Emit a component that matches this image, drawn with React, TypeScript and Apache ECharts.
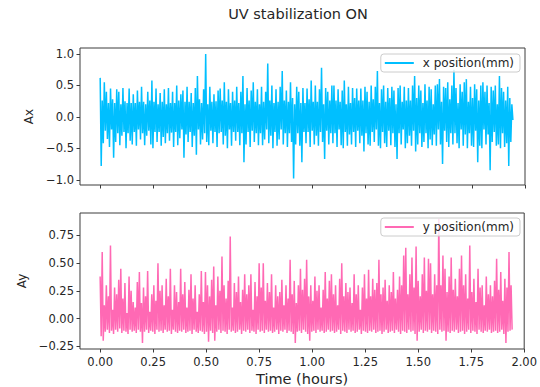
import { useEffect, useRef } from "react";
import * as echarts from "echarts";

// Recording length: samples are evenly spaced from 0 to this many hours.
const SAMPLE_SPAN_HOURS = 1.943;

// Horizontal drift of the spot (mm).
const axValues = [
  0.62, -0.78, 0.26, -0.42, 0.55, -0.22, 0.40, -0.35, 0.22, -0.48, 0.45, -0.20, 0.28, -0.65, 0.22, -0.40, 0.44, -0.26, 0.40, -0.45,
  0.20, -0.30, 0.46, -0.24, 0.25, -0.50, 0.22, -0.26, 0.45, -0.38, 0.22, -0.44, 0.36, -0.24, 0.22, -0.46, 0.42, -0.20, 0.24, -0.36,
  0.48, -0.26, 0.24, -0.45, 0.20, -0.30, 0.40, -0.22, 0.26, -0.44, 0.58, -0.50, 0.24, -0.24, 0.45, -0.40, 0.20, -0.24, 0.38, -0.46,
  0.24, -0.32, 0.44, -0.42, 0.20, -0.26, 0.46, -0.38, 0.22, -0.25, 0.40, -0.48, 0.22, -0.24, 0.50, -0.45, 0.26, -0.34, 0.36, -0.20,
  0.42, -0.65, 0.24, -0.28, 0.48, -0.40, 0.24, -0.24, 0.38, -0.48, 0.22, -0.30, 0.46, -0.60, 0.65, -0.20, 0.28, -0.44, 0.22, -0.36,
  0.44, -0.26, 1.00, -0.40, 0.20, -0.45, 0.48, -0.22, 0.24, -0.42, 0.36, -0.24, 0.25, -0.48, 0.42, -0.26, 0.45, -0.24, 0.26, -0.44,
  0.55, -0.30, 0.24, -0.50, 0.44, -0.20, 0.22, -0.46, 0.40, -0.24, 0.26, -0.38, 0.48, -0.24, 0.22, -0.45, 0.40, -0.26, 0.65, -0.72,
  0.20, -0.44, 0.46, -0.24, 0.26, -0.48, 0.42, -0.22, 0.55, -0.40, 0.24, -0.26, 0.44, -0.45, 0.20, -0.26, 0.48, -0.45, 0.24, -0.36,
  0.40, -0.20, 0.85, -0.42, 0.26, -0.30, 0.50, -0.50, 0.22, -0.24, 0.44, -0.46, 0.24, -0.36, 0.48, -0.20, 0.73, -0.44, 0.26, -0.26,
  0.42, -0.48, 0.24, -0.26, 0.55, -0.40, 0.30, -0.98, 0.20, -0.44, 0.48, -0.26, 0.40, -0.46, 0.22, -0.72, 0.46, -0.24, 0.22, -0.42,
  0.45, -0.24, 0.28, -0.48, 0.58, -0.22, 0.24, -0.44, 0.50, -0.30, 0.24, -0.46, 0.44, -0.24, 0.78, -0.40, 0.20, -0.67, 0.46, -0.22,
  0.40, -0.44, 0.26, -0.26, 0.50, -0.42, 0.50, -0.26, 0.26, -0.48, 0.44, -0.20, 0.24, -0.45, 0.42, -0.50, 0.58, -0.24, 0.20, -0.46,
  0.48, -0.28, 0.22, -0.44, 0.46, -0.24, 0.30, -0.48, 0.45, -0.22, 0.26, -0.42, 0.45, -0.30, 0.26, -0.55, 0.48, -0.26, 0.40, -0.44,
  0.24, -0.46, 0.50, -0.24, 0.28, -0.40, 0.48, -0.20, 0.73, -0.46, 0.22, -0.50, 0.44, -0.24, 0.50, -0.42, 0.24, -0.48, 0.46, -0.22,
  0.30, -0.45, 0.48, -0.26, 0.42, -0.48, 0.20, -0.67, 0.46, -0.26, 0.50, -0.44, 0.24, -0.20, 0.48, -0.50, 0.26, -0.42, 0.46, -0.30,
  0.26, -0.46, 0.50, -0.22, 0.65, -0.55, 0.30, -0.44, 0.50, -0.26, 0.42, -0.48, 0.22, -0.40, 0.52, -0.26, 0.26, -0.50, 0.48, -0.36,
  0.44, -0.45, 0.20, -0.28, 0.50, -0.46, 0.52, -0.20, 0.60, -0.44, 0.24, -0.75, 0.48, -0.22, 0.46, -0.40, 0.55, -0.48, 0.28, -0.26,
  0.50, -0.44, 0.75, -0.26, 0.46, -0.42, 0.22, -0.50, 0.52, -0.20, 0.40, -0.46, 0.55, -0.28, 0.60, -0.50, 0.24, -0.26, 0.48, -0.46,
  0.30, -0.48, 0.52, -0.22, 0.44, -0.72, 0.26, -0.46, 0.50, -0.50, 0.55, -0.20, 0.40, -0.44, 0.50, -0.28, 0.22, -0.85, 0.48, -0.40,
  0.42, -0.24, 0.50, -0.46, 0.20, -0.44, 0.65, -0.50, 0.46, -0.26, 0.40, -0.48, 0.26, -0.42, 0.48, -0.78, 0.30, -0.40, 0.20, -0.05,
];

// Vertical drift of the spot (mm).
const ayValues = [
  0.38, -0.16, 0.60, -0.20, 0.12, -0.12, 0.30, -0.10, 0.20, -0.13, 0.66, -0.11, 0.08, -0.14, 0.28, -0.10, 0.22, -0.12, 0.35, -0.09,
  0.45, -0.13, 0.18, -0.11, 0.32, -0.12, 0.05, -0.14, 0.38, -0.10, 0.25, -0.12, 0.15, -0.11, 0.10, -0.13, 0.33, -0.10, 0.42, -0.12,
  0.14, -0.22, 0.28, -0.12, 0.20, -0.10, 0.43, -0.13, 0.06, -0.11, 0.22, -0.12, 0.30, -0.14, 0.16, -0.10, 0.50, -0.12, 0.25, -0.11,
  0.30, -0.13, 0.12, -0.10, 0.36, -0.12, 0.20, -0.11, 0.45, -0.14, 0.08, -0.10, 0.30, -0.12, 0.24, -0.13, 0.15, -0.11, 0.45, -0.12,
  0.22, -0.10, 0.33, -0.13, 0.10, -0.12, 0.26, -0.11, 0.40, -0.14, 0.18, -0.10, 0.30, -0.12, 0.06, -0.13, 0.22, -0.11, 0.43, -0.12,
  0.15, -0.14, 0.42, -0.12, 0.30, -0.21, 0.20, -0.11, 0.35, -0.13, 0.47, -0.20, 0.12, -0.12, 0.38, -0.10, 0.25, -0.13, 0.56, -0.11,
  0.30, -0.12, 0.18, -0.14, 0.34, -0.10, 0.74, -0.12, 0.10, -0.11, 0.32, -0.13, 0.24, -0.12, 0.38, -0.10, 0.15, -0.14, 0.26, -0.11,
  0.40, -0.12, 0.22, -0.10, 0.30, -0.13, 0.40, -0.11, 0.08, -0.12, 0.33, -0.14, 0.20, -0.10, 0.50, -0.12, 0.28, -0.11, 0.50, -0.13,
  0.16, -0.10, 0.32, -0.12, 0.24, -0.11, 0.40, -0.13, 0.10, -0.12, 0.30, -0.10, 0.20, -0.14, 0.24, -0.11, 0.35, -0.12, 0.12, -0.10,
  0.30, -0.13, 0.18, -0.11, 0.53, -0.12, 0.22, -0.14, 0.34, -0.22, 0.14, -0.12, 0.30, -0.11, 0.45, -0.13, 0.26, -0.10, 0.36, -0.12,
  0.53, -0.14, 0.20, -0.20, 0.30, -0.12, 0.16, -0.11, 0.38, -0.13, 0.25, -0.10, 0.30, -0.12, 0.10, -0.11, 0.26, -0.13, 0.42, -0.12,
  0.18, -0.10, 0.34, -0.12, 0.40, -0.11, 0.22, -0.13, 0.30, -0.12, 0.12, -0.10, 0.36, -0.14, 0.50, -0.11, 0.20, -0.12, 0.32, -0.13,
  0.24, -0.10, 0.28, -0.12, 0.14, -0.11, 0.40, -0.13, 0.22, -0.12, 0.30, -0.10, 0.08, -0.14, 0.28, -0.11, 0.40, -0.12, 0.18, -0.13,
  0.44, -0.11, 0.20, -0.12, 0.36, -0.10, 0.26, -0.13, 0.32, -0.12, 0.53, -0.11, 0.22, -0.14, 0.28, -0.12, 0.35, -0.10, 0.16, -0.13,
  0.30, -0.12, 0.24, -0.11, 0.42, -0.13, 0.18, -0.10, 0.26, -0.12, 0.38, -0.14, 0.30, -0.11, 0.57, -0.12, 0.64, -0.13, 0.22, -0.10,
  0.40, -0.12, 0.55, -0.11, 0.28, -0.14, 0.65, -0.20, 0.34, -0.12, 0.20, -0.10, 0.40, -0.13, 0.55, -0.11, 0.25, -0.12, 0.54, -0.10,
  0.50, -0.13, 0.22, -0.11, 0.40, -0.12, 0.30, -0.14, 0.90, -0.10, 0.30, -0.12, 0.57, -0.11, 0.45, -0.20, 0.24, -0.12, 0.38, -0.13,
  0.55, -0.11, 0.26, -0.12, 0.36, -0.10, 0.20, -0.13, 0.45, -0.12, 0.57, -0.11, 0.30, -0.14, 0.40, -0.12, 0.18, -0.10, 0.66, -0.13,
  0.24, -0.11, 0.36, -0.12, 0.15, -0.14, 0.45, -0.10, 0.28, -0.12, 0.30, -0.13, 0.12, -0.11, 0.38, -0.12, 0.22, -0.10, 0.30, -0.13,
  0.20, -0.12, 0.34, -0.11, 0.54, -0.13, 0.26, -0.12, 0.42, -0.10, 0.16, -0.14, 0.36, -0.22, 0.28, -0.12, 0.60, -0.11, 0.30, -0.10,
];

const timeTicks = [0, 0.25, 0.5, 0.75, 1.0, 1.25, 1.5, 1.75, 2.0];
const axTicks = [-1.0, -0.5, 0.0, 0.5, 1.0];
const ayTicks = [-0.25, 0.0, 0.25, 0.5, 0.75];

const X_NAME = "x position(mm)";
const Y_NAME = "y position(mm)";
const X_COLOR = "#00BFFF";
const Y_COLOR = "#FF69B4";

const FONT = "DejaVu Sans";
const INK = "#262626";
const SPINE = "#3c3c3c";

const withTime = (vals: number[]) =>
  vals.map((v, i) => [(i * SAMPLE_SPAN_HOURS) / (vals.length - 1), v]);

const fmt = (digits: number) => (v: number) =>
  (v < 0 ? "\u2212" : "") + Math.abs(v).toFixed(digits);

const GRID_LEFT = 80;
const GRID_RIGHT = 15;

export default function App() {
  const ref = useRef<HTMLDivElement>(null);

  useEffect(() => {
    if (!ref.current) return;
    const chart = echarts.init(ref.current, undefined, { renderer: "svg" });

    const xAxisFor = (gridIndex: number, labelled: boolean) => ({
      type: "value",
      gridIndex,
      min: -0.095,
      max: 2.0,
      axisLine: { show: false, onZero: false },
      axisTick: {
        show: true,
        length: 3.5,
        customValues: timeTicks,
        lineStyle: { color: SPINE, width: 1 },
      },
      axisLabel: {
        show: labelled,
        customValues: timeTicks,
        formatter: fmt(2),
        margin: 7,
        color: INK,
        fontFamily: FONT,
        fontSize: 11.5,
      },
      splitLine: { show: false },
      ...(labelled
        ? {
            name: "Time (hours)",
            nameLocation: "middle",
            nameGap: 22,
            nameTextStyle: { color: INK, fontFamily: FONT, fontSize: 14.5 },
          }
        : {}),
    });

    const yAxisFor = (
      gridIndex: number,
      min: number,
      max: number,
      ticks: number[],
      digits: number,
      name: string,
      nameGap: number
    ) => ({
      type: "value",
      gridIndex,
      min,
      max,
      axisLine: { show: false, onZero: false },
      axisTick: {
        show: true,
        length: 3.5,
        customValues: ticks,
        lineStyle: { color: SPINE, width: 1 },
      },
      axisLabel: {
        customValues: ticks,
        formatter: fmt(digits),
        margin: 6,
        color: INK,
        fontFamily: FONT,
        fontSize: 11.5,
      },
      splitLine: { show: false },
      name,
      nameLocation: "middle",
      nameRotate: 90,
      nameGap,
      nameTextStyle: { color: INK, fontFamily: FONT, fontSize: 12 },
    });

    const legendFor = (name: string, top: number) => ({
      data: [name],
      top,
      right: 20,
      orient: "horizontal",
      icon: "rect",
      itemWidth: 29,
      itemHeight: 2,
      padding: [3, 6, 3, 4],
      backgroundColor: "rgba(255,255,255,0.8)",
      borderColor: "#cccccc",
      borderWidth: 1,
      borderRadius: 3,
      textStyle: {
        color: INK,
        fontFamily: FONT,
        fontSize: 12,
        padding: [0, 0, 0, 4],
      },
      selectedMode: false,
    });

    const gridBox = (top: number) => ({
      left: GRID_LEFT,
      right: GRID_RIGHT,
      top,
      height: 137,
      show: true,
      borderColor: SPINE,
      borderWidth: 1,
      backgroundColor: "transparent",
    });

    const lineSeries = (
      name: string,
      index: number,
      values: number[],
      color: string
    ) => ({
      name,
      type: "line",
      xAxisIndex: index,
      yAxisIndex: index,
      data: withTime(values),
      showSymbol: false,
      symbol: "none",
      color,
      lineStyle: { color, width: 1.5 },
      silent: true,
      clip: true,
    });

    chart.setOption({
      animation: false,
      backgroundColor: "#ffffff",
      textStyle: { fontFamily: FONT },
      graphic: [
        {
          type: "text",
          x: 298,
          y: 14,
          style: {
            text: "UV stabilization ON",
            fill: INK,
            font: `14.5px "${FONT}"`,
            align: "center",
            verticalAlign: "middle",
          },
        },
      ],
      grid: [gridBox(48), gridBox(213)],
      legend: [legendFor(X_NAME, 54), legendFor(Y_NAME, 218)],
      xAxis: [xAxisFor(0, false), xAxisFor(1, true)],
      yAxis: [
        yAxisFor(0, -1.083, 1.095, axTicks, 1, "Ax", 44),
        yAxisFor(1, -0.275, 0.953, ayTicks, 2, "Ay", 52),
      ],
      series: [
        lineSeries(X_NAME, 0, axValues, X_COLOR),
        lineSeries(Y_NAME, 1, ayValues, Y_COLOR),
      ],
    });

    return () => chart.dispose();
  }, []);

  return (
    <div
      ref={ref}
      style={{ position: "fixed", left: 0, top: 0, width: 540, height: 387 }}
    />
  );
}
